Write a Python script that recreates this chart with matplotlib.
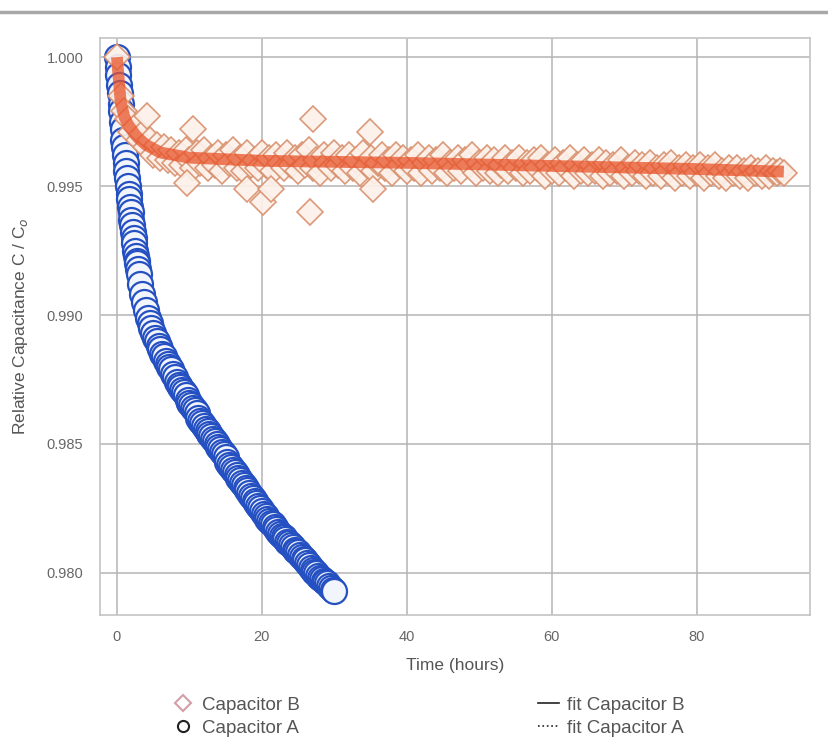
import matplotlib.pyplot as plt
from matplotlib.lines import Line2D

plt.rcParams['font.family'] = ['Liberation Sans', 'DejaVu Sans']

# Capacitor A (hours, C/Co)
tA = [0.0, 0.1, 0.2, 0.3, 0.4, 0.5, 0.6, 0.7, 0.8, 0.9,
      1.0, 1.1, 1.2, 1.3, 1.4, 1.5, 1.6, 1.7, 1.8, 1.9,
      2.0, 2.1, 2.2, 2.3, 2.4, 2.5, 2.6, 2.7, 2.8, 2.9,
      3.0, 3.25, 3.5, 3.75, 4.0, 4.25, 4.5, 4.75, 5.0, 5.25, 5.5, 5.75,
      6.0, 6.25, 6.5, 6.75, 7.0, 7.25, 7.5, 7.75, 8.0, 8.25, 8.5, 8.75,
      9.0, 9.25, 9.5, 9.75, 10.0, 10.25, 10.5, 10.75, 11.0, 11.25, 11.5, 11.75,
      12.0, 12.25, 12.5, 12.75, 13.0, 13.25, 13.5, 13.75, 14.0, 14.25, 14.5, 14.75,
      15.0, 15.25, 15.5, 15.75, 16.0, 16.25, 16.5, 16.75, 17.0, 17.25, 17.5, 17.75,
      18.0, 18.25, 18.5, 18.75, 19.0, 19.25, 19.5, 19.75, 20.0, 20.25, 20.5, 20.75,
      21.0, 21.25, 21.5, 21.75, 22.0, 22.25, 22.5, 22.75, 23.0, 23.25, 23.5, 23.75,
      24.0, 24.25, 24.5, 24.75, 25.0, 25.25, 25.5, 25.75, 26.0, 26.25, 26.5, 26.75,
      27.0, 27.25, 27.5, 27.75, 28.0, 28.25, 28.5, 28.75, 29.0, 29.25, 29.5, 29.75,
      30.0]
cA = [1.0000, 0.9996, 0.9993, 0.9989, 0.9986, 0.9982, 0.9979, 0.9975, 0.9972, 0.9968,
      0.9965, 0.9962, 0.9959, 0.9956, 0.9953, 0.9950, 0.9947, 0.9945, 0.9942, 0.9940,
      0.9937, 0.9935, 0.9932, 0.9930, 0.9928, 0.9925, 0.9923, 0.9921, 0.9920, 0.9918,
      0.9916, 0.9912, 0.9908, 0.9905, 0.9902, 0.9899, 0.9897, 0.9895, 0.9893, 0.9891,
      0.9890, 0.9888, 0.9887, 0.9885, 0.9884, 0.9882, 0.9881, 0.9880, 0.9879, 0.9877,
      0.9876, 0.9874, 0.9873, 0.9872, 0.9871, 0.9870, 0.9869, 0.9867, 0.9866, 0.9865,
      0.9864, 0.9863, 0.9862, 0.9860, 0.9859, 0.9858, 0.9857, 0.9856, 0.9855, 0.9854,
      0.9853, 0.9852, 0.9851, 0.9850, 0.9849, 0.9848, 0.9847, 0.9846, 0.9845, 0.9843,
      0.9842, 0.9841, 0.9840, 0.9839, 0.9838, 0.9837, 0.9836, 0.9835, 0.9834, 0.9833,
      0.9832, 0.9831, 0.9830, 0.9829, 0.9828, 0.9827, 0.9826, 0.9825, 0.9824, 0.9823,
      0.9822, 0.9821, 0.9820, 0.98195, 0.9819, 0.9818, 0.9817, 0.9816, 0.9815, 0.98145,
      0.9814, 0.9813, 0.9812, 0.98115, 0.9811, 0.9810, 0.9809, 0.98085, 0.9808, 0.9807,
      0.9806, 0.98055, 0.9805, 0.9804, 0.9803, 0.9802, 0.9801, 0.98005, 0.9800, 0.9799,
      0.9798, 0.97975, 0.9797, 0.97965, 0.9796, 0.9795, 0.9794, 0.97935, 0.9793]

# Capacitor B (hours, C/Co)
tB = [0.0, 0.5, 1.0, 1.5, 2.0, 2.5, 3.0, 3.5, 4.0, 4.5,
      5.0, 5.5, 6.0, 6.5, 7.0, 7.5, 8.0, 8.5, 9.0, 9.5,
      10.0, 10.5, 11.0, 11.5, 12.0, 12.5, 13.0, 13.5, 14.0, 14.5,
      15.0, 15.5, 16.0, 16.5, 17.0, 17.5, 18.0, 18.5, 19.0, 19.5,
      20.0, 20.5, 21.0, 21.5, 22.0, 22.5, 23.0, 23.5, 24.0, 24.5,
      25.0, 25.5, 26.0, 26.5, 27.0, 27.5, 28.0, 28.5, 29.0, 29.5,
      30.0, 30.5, 31.0, 31.5, 32.0, 32.5, 33.0, 33.5, 34.0, 34.5,
      35.0, 35.5, 36.0, 36.5, 37.0, 37.5, 38.0, 38.5, 39.0, 39.5,
      40.0, 40.5, 41.0, 41.5, 42.0, 42.5, 43.0, 43.5, 44.0, 44.5,
      45.0, 45.5, 46.0, 46.5, 47.0, 47.5, 48.0, 48.5, 49.0, 49.5,
      50.0, 50.5, 51.0, 51.5, 52.0, 52.5, 53.0, 53.5, 54.0, 54.5,
      55.0, 55.5, 56.0, 56.5, 57.0, 57.5, 58.0, 58.5, 59.0, 59.5,
      60.0, 60.5, 61.0, 61.5, 62.0, 62.5, 63.0, 63.5, 64.0, 64.5,
      65.0, 65.5, 66.0, 66.5, 67.0, 67.5, 68.0, 68.5, 69.0, 69.5,
      70.0, 70.5, 71.0, 71.5, 72.0, 72.5, 73.0, 73.5, 74.0, 74.5,
      75.0, 75.5, 76.0, 76.5, 77.0, 77.5, 78.0, 78.5, 79.0, 79.5,
      80.0, 80.5, 81.0, 81.5, 82.0, 82.5, 83.0, 83.5, 84.0, 84.5,
      85.0, 85.5, 86.0, 86.5, 87.0, 87.5, 88.0, 88.5, 89.0, 89.5,
      90.0, 90.5, 91.0, 91.5, 92.0]
cB = [1.0000, 0.9985, 0.9979, 0.9976, 0.9971, 0.9973, 0.9968, 0.9970, 0.9965, 0.9968,
      0.9962, 0.9966, 0.9961, 0.9965, 0.9960, 0.9964, 0.9959, 0.9963, 0.9958, 0.9964,
      0.9960, 0.9957, 0.9963, 0.9959, 0.9964, 0.9957, 0.9961, 0.9958, 0.9963, 0.9956,
      0.9962, 0.9959, 0.9964, 0.9957, 0.9961, 0.9956, 0.9963, 0.9958, 0.9960, 0.9957,
      0.9963, 0.9958, 0.9961, 0.9956, 0.9962, 0.9959, 0.9957, 0.9963, 0.9958, 0.9961,
      0.9956, 0.9962, 0.9958, 0.9964, 0.9957, 0.9960, 0.9955, 0.9962, 0.9959, 0.9957,
      0.9963, 0.9958, 0.9961, 0.9956, 0.9962, 0.9957, 0.9960, 0.9955, 0.9963, 0.9958,
      0.9961, 0.9956, 0.9959, 0.9962, 0.9957, 0.9960, 0.9955, 0.9962, 0.9958, 0.9961,
      0.9956, 0.9960, 0.9957, 0.9962, 0.9955, 0.9959, 0.9961, 0.9956, 0.9960, 0.9957,
      0.9962, 0.9955, 0.9959, 0.9957, 0.9961, 0.9956, 0.9960, 0.9958, 0.9962, 0.9955,
      0.9959, 0.9957, 0.9961, 0.9956, 0.9960, 0.9955, 0.9958, 0.9961, 0.9956, 0.9959,
      0.9957, 0.9961, 0.9955, 0.9959, 0.9956, 0.9960, 0.9957, 0.9961, 0.9954, 0.9958,
      0.9956, 0.9960, 0.9955, 0.9959, 0.9957, 0.9961, 0.9954, 0.9958, 0.9956, 0.9960,
      0.9955, 0.9958, 0.9956, 0.9960, 0.9954, 0.9959, 0.9955, 0.9958, 0.9956, 0.9960,
      0.9954, 0.9957, 0.9955, 0.9959, 0.9956, 0.9958, 0.9954, 0.9959, 0.9955, 0.9957,
      0.9954, 0.9958, 0.9956, 0.9959, 0.9953, 0.9957, 0.9955, 0.9958, 0.9954, 0.9957,
      0.9955, 0.9958, 0.9953, 0.9957, 0.9955, 0.9958, 0.9954, 0.9956, 0.9953, 0.9957,
      0.9955, 0.9957, 0.9954, 0.9956, 0.9953, 0.9957, 0.9955, 0.9956, 0.9954, 0.9957,
      0.9954, 0.9956, 0.9955, 0.9956, 0.9955]
# scattered readings of Capacitor B away from the main band
tB_out = [4.2, 10.5, 9.7, 17.9, 20.1, 21.2, 26.6, 27.0, 34.9, 35.3]
cB_out = [0.9977, 0.9972, 0.9951, 0.9949, 0.9944, 0.9949, 0.9940, 0.9976, 0.9971, 0.9949]

# fitted curves
fitA_t = [0, 0.5, 1, 1.5, 2, 3, 4, 5, 7, 10, 13, 16, 20, 25, 30]
fitA_c = [1.0000, 0.9982, 0.9965, 0.9950, 0.9937, 0.9916, 0.9902, 0.9893, 0.9881,
          0.9866, 0.9853, 0.9840, 0.9824, 0.9808, 0.9793]
fitB_t = [0, 0.5, 1, 1.5, 2, 2.5, 3, 4, 5, 6, 8, 10, 20, 40, 60, 80, 92]
fitB_c = [1.0000, 0.9983, 0.9977, 0.9974, 0.9972, 0.9970, 0.99685, 0.9966, 0.99645,
          0.9963, 0.9962, 0.9961, 0.99598, 0.9959, 0.99578, 0.99566, 0.99556]

xticks = [0, 20, 40, 60, 80]
yticks = [0.980, 0.985, 0.990, 0.995, 1.000]

fig = plt.figure(figsize=(8.29, 7.44), dpi=100)
ax = fig.add_axes([0.1206, 0.1734, 0.8564, 0.7755])

# page rule at the top
fig.add_artist(Line2D([0, 1], [0.984, 0.984], color='#a8a8a8', lw=2.5))

ax.plot(fitB_t, fitB_c, color='black', lw=0.8, zorder=1)
ax.plot(fitA_t, fitA_c, color='black', lw=0.8, ls=':', zorder=1)

ax.plot(tA, cA, ls='none', marker='o', ms=18, mfc='#f2f5fc', mec='#2550c2',
        mew=1.6, zorder=2)
diamond = dict(ls='none', marker='D', ms=13.5, mfc='#fcf1ea', mec='#d9916f',
               mew=1.2, alpha=0.92)
ax.plot(tB, cB, zorder=3, **diamond)
ax.plot(tB_out, cB_out, zorder=3, **diamond)
ax.plot(fitB_t, fitB_c, color='#e8542a', lw=8.5, alpha=0.75, solid_capstyle='butt',
        zorder=4)

ax.set_xlim(-2.34, 95.6)
ax.set_ylim(0.97837, 1.00074)
ax.set_xticks(xticks)
ax.set_yticks(yticks)
ax.set_yticklabels(['%.3f' % v for v in yticks])
ax.grid(True, color='#b4b4b4', lw=1.1)
ax.set_axisbelow(True)
for s in ax.spines.values():
    s.set_color('#c4c4c4')
    s.set_linewidth(1.2)
ax.tick_params(length=0, pad=11, colors='#666666', labelsize=10.5)
ax.tick_params(axis='y', pad=12)

ax.set_xlabel('Time (hours)', fontsize=12.5, color='#555555', labelpad=10)
ax.set_ylabel('Relative Capacitance C / C$_o$', fontsize=12.5, color='#555555',
              labelpad=12)

handles = [
    Line2D([], [], ls='none', marker='D', ms=8, mfc='white', mec='#d4a0a8', mew=1.5),
    Line2D([], [], ls='none', marker='o', ms=8, mfc='white', mec='#222222', mew=1.5),
    Line2D([], [], color='#222222', lw=1.2),
    Line2D([], [], color='#222222', lw=1.2, ls=':'),
]
labels = ['Capacitor B', 'Capacitor A', 'fit Capacitor B', 'fit Capacitor A']
fig.legend(handles, labels, ncol=2, loc='upper left', bbox_to_anchor=(0.2087, 0.064),
           frameon=False, fontsize=13.5, labelcolor='#555555', columnspacing=12.7,
           handlelength=1.1, handletextpad=0.45, labelspacing=0.32,
           borderpad=0, borderaxespad=0)

fig.savefig('out.png', dpi=100)
